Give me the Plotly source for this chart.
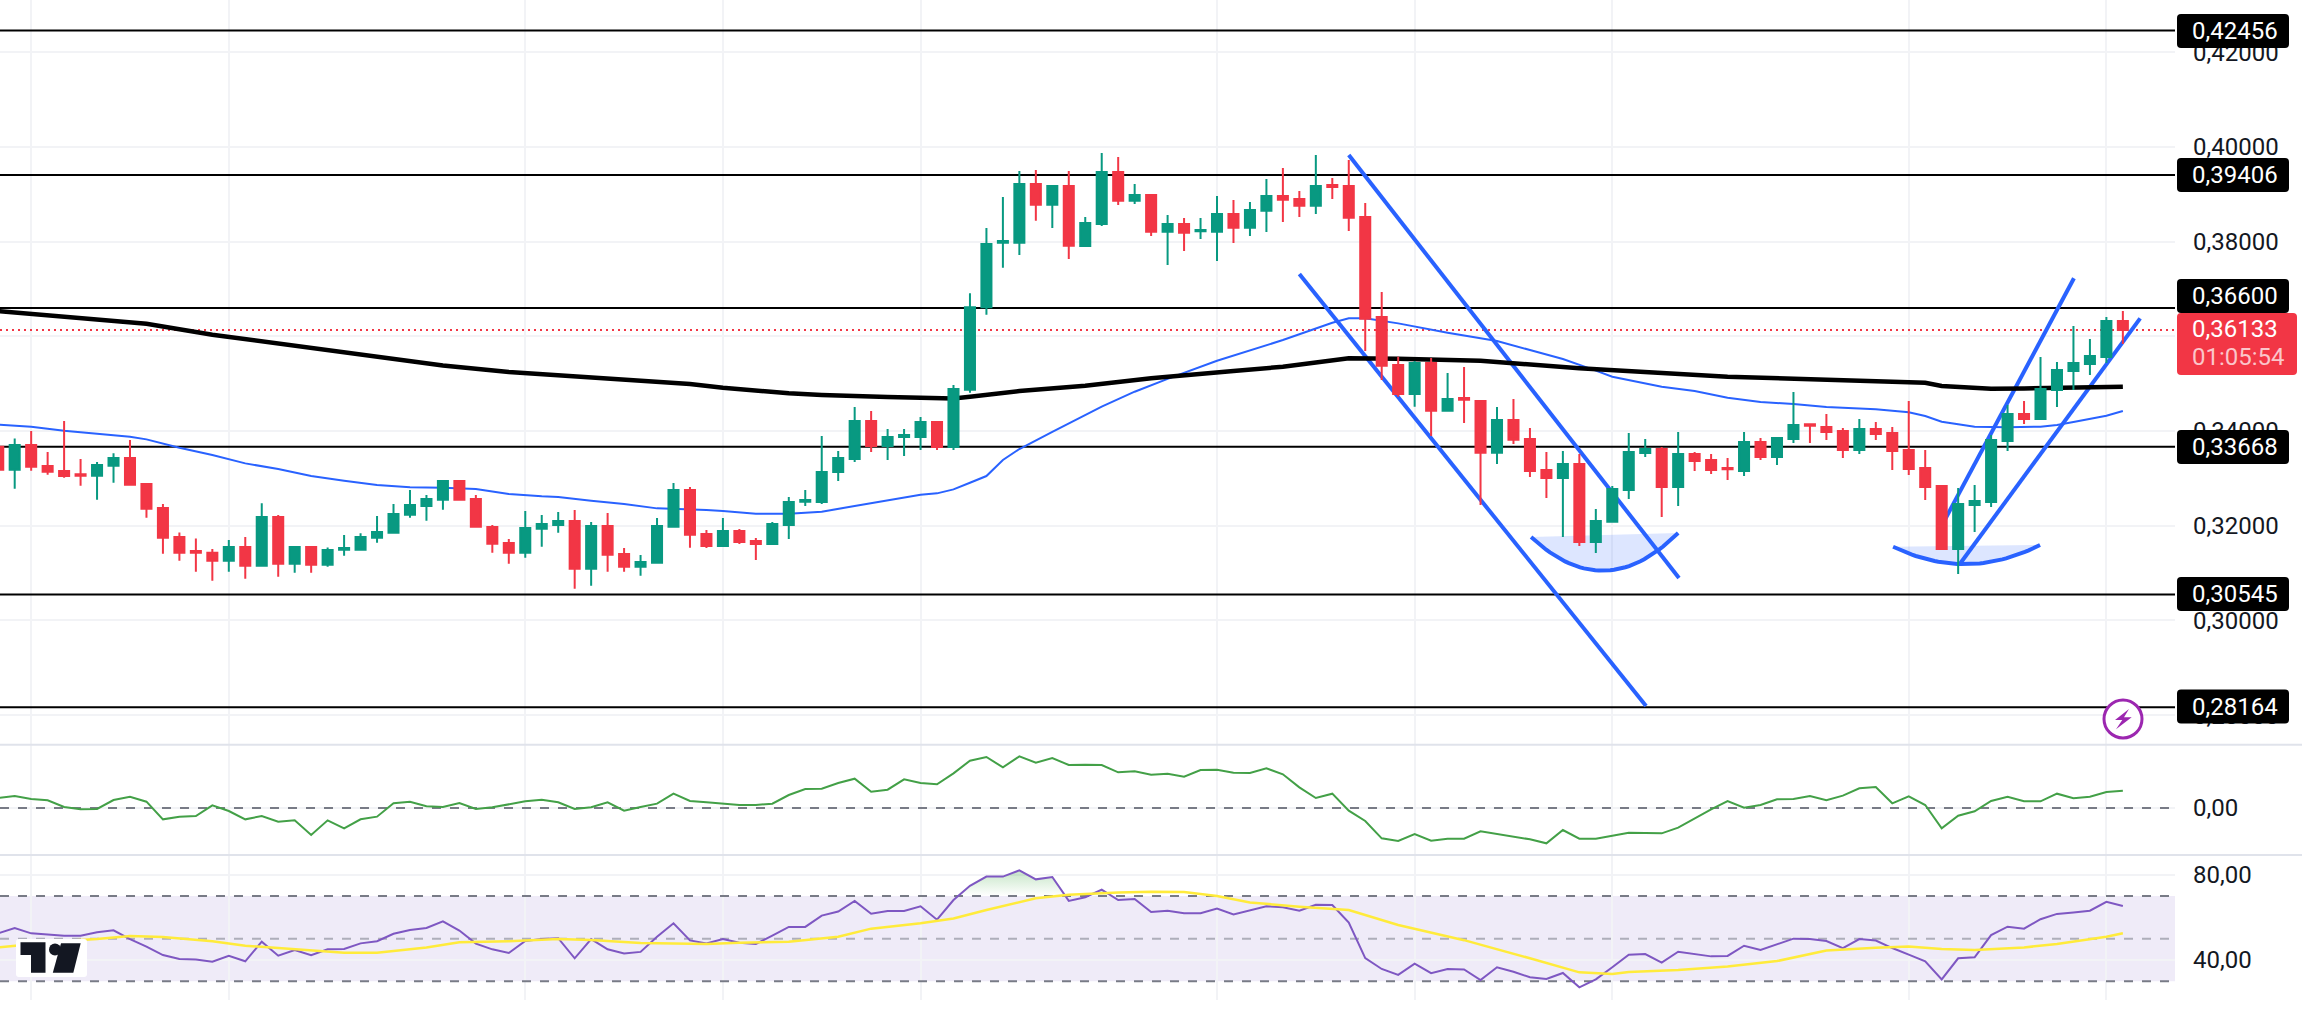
import numpy as np
import plotly.graph_objects as go

W, H = 2302, 1017
FONT = "Roboto"
RED, GREEN = "#F23645", "#089981"
BLUE = "#2962FF"
GRID = "#F2F3F6"

# Candle index -1 is the partly visible first bar. Prices are in 1e-5 units.
CANDLE_IDX = list(range(-1, 129))
OPEN_E5 = [33668,33183,33704,33260,33155,33084,33056,33267,33429,32880,32373,31761,31465,31430,31261,31549,31155,32183,31197,31549,31176,31493,31493,31747,31852,32232,32415,32549,32943,32563,31972,31634,31430,31937,32014,32099,31092,31993,31402,31134,31219,31979,32753,31824,31571,31887,31676,31613,32014,32507,32500,33133,33408,34211,33683,33873,33873,34189,33661,34872,36611,37977,37977,39216,38780,39174,37907,38371,39469,38864,38984,38209,38371,38216,38209,38582,38294,38653,38963,38899,38758,39195,39174,38519,36407,35393,34781,35436,34429,34696,34633,33542,34232,33830,33176,33007,33302,31655,32084,32753,33535,33619,32817,33514,33387,33218,33155,33767,33450,33830,34140,34084,33999,33598,34042,33957,33598,33218,32838,31507,32436,32500,33788,34358,34253,34865,35267,35414,35562,36323]
HIGH_E5 = [33704,33844,33999,33556,34211,33408,33345,33528,33809,32880,32458,31859,31732,31507,31697,31761,32472,32225,31571,31571,31542,31803,31838,32204,32458,32753,32648,32964,32964,32648,32014,31718,32310,32225,32289,32331,32077,32268,31528,31380,32162,32901,32817,31908,32162,31930,31740,32077,32605,32753,33894,33577,34506,34422,34042,34042,34295,34211,34971,36907,38287,38941,39491,39512,39174,39491,38519,39871,39786,39216,38984,38561,38498,38498,38963,38878,38836,39322,39554,39068,39828,39343,39723,38815,36935,35569,35478,35541,35224,35351,34654,34506,34675,34063,33556,33577,33514,32352,32838,33957,33830,33661,33978,33556,33514,33429,33978,33852,33873,34823,34140,34358,34063,34253,34189,34084,34633,33598,32859,32796,32859,33915,34548,34633,35562,35457,36217,35942,36407,36534]
LOW_E5 = [33162,32781,33162,33077,33014,32845,32549,32908,32845,32169,31409,31261,31028,30838,31028,30881,31155,30923,31007,31007,31134,31366,31493,31641,31852,32169,32106,32338,32549,31958,31430,31197,31324,31556,31852,30669,30733,31028,31028,30944,31219,31958,31535,31528,31571,31613,31275,31592,31718,32415,32458,32943,33345,33556,33387,33471,33598,33598,33598,34809,36456,37449,37716,38442,38287,37632,37885,38329,38772,38794,38118,37505,37801,38054,37590,37970,38118,38202,38413,38519,38582,38899,38223,35689,35076,34724,34513,33894,34429,34168,32436,33302,33725,33028,32584,31761,31571,31423,32084,32563,33450,32183,32415,33155,33091,32964,33049,33387,33281,33746,33746,33809,33429,33514,33809,33176,33070,32542,31507,30979,31866,32394,33577,34147,34253,34506,34865,35182,35436,35837]
CLOSE_E5 = [33183,33704,33246,33140,33049,33056,33281,33429,32866,32359,31747,31430,31430,31261,31549,31155,32183,31197,31549,31176,31486,31528,31761,31866,32246,32436,32563,32943,32549,31979,31620,31430,31951,32035,32099,31092,31993,31388,31134,31233,31993,32753,31810,31571,31887,31655,31613,32035,32500,32542,33133,33429,34211,33683,33873,33915,34189,33661,34886,36611,37949,38012,39216,38780,39174,37914,38392,39469,38864,38984,38209,38371,38188,38244,38582,38294,38667,38963,38885,38758,39174,39153,38505,36372,35379,34781,35436,34429,34675,34661,33542,34232,33816,33155,33007,33302,31655,32099,32774,33556,33619,32817,33514,33366,33176,33190,33767,33450,33852,34126,34112,33978,33598,34042,33936,33577,33197,32817,31507,32458,32521,33809,34358,34253,34886,35288,35436,35583,36323,36133]

BLUE_MA_IDX = [-1,1,3,5,7,8,10,12,14,16,18,20,22,24,26,28,30,32,33,35,37,39,41,42,43,45,47,49,51,53,55,56,57,58,59,60,61,63,66,68,70,73,77,80,81,82,84,87,90,92,94,96,97,100,102,104,106,108,110,113,115,116,117,119,120,121,123,124,125,126,127,128]
BLUE_MA_E5 = [34133,34091,34006,33950,33880,33823,33647,33492,33316,33197,33049,32950,32859,32810,32803,32774,32669,32620,32605,32528,32458,32366,32352,32331,32310,32253,32253,32296,32415,32528,32655,32683,32767,32908,33049,33388,33620,33980,34513,34830,35100,35485,35921,36287,36379,36379,36273,36076,35900,35710,35520,35274,35147,34936,34844,34703,34612,34570,34506,34457,34394,34316,34196,34091,34077,34077,34091,34126,34189,34253,34323,34422]
BLACK_MA_IDX = [-1,8,12,17,26,30,37,41,43,45,47,49,51,53,55,57,58,61,65,69,74,77,81,84,89,95,104,111,116,117,120,122,126,128]
BLACK_MA_E5 = [36534,36266,36034,35795,35383,35246,35077,34992,34915,34844,34795,34760,34732,34717,34703,34689,34724,34844,34957,35112,35267,35358,35534,35527,35485,35323,35147,35076,35020,34950,34893,34900,34915,34936]

LEVELS_E5 = [42456, 39406, 36600, 33668, 30545, 28164]
LEVEL_LABELS = ["0,42456", "0,39406", "0,36600", "0,33668", "0,30545", "0,28164"]
LEVEL_LABEL_CENTER_PX = [31, 175, 296, 447, 594, 706.5]
LAST_PRICE_E5 = 36133
COUNTDOWN = "01:05:54"

# Hand-drawn channels and arcs: (candle index, price e5) end points.
CHANNELS = [
    ([81.0, 101.05], [39829, 30895]),
    ([78.0, 99.05], [37316, 28192]),
    ([117.0, 125.03], [32000, 37225]),
    ([118.1, 129.05], [31190, 36379]),
]
ARCS = [
    ([92.07, 96.47, 101.0], [31761, 31050, 31846]),
    ([114.05, 118.1, 122.97], [31556, 31190, 31592]),
]

GRID_X = [1, 13, 31, 43, 55, 73, 85, 97, 115, 127]

# Chaikin-style oscillator, in thousandths
CMF_E3 = [60,72,54,46,6,-8,-6,48,68,38,-68,-52,-48,16,-18,-68,-48,-82,-74,-162,-74,-122,-68,-52,28,38,10,6,30,-6,4,20,40,50,34,-6,4,34,-16,6,26,86,42,34,28,18,18,26,78,114,116,150,176,98,110,172,150,142,208,284,306,244,310,272,300,258,260,258,214,220,200,206,188,228,230,212,210,238,202,124,60,86,-16,-78,-182,-198,-156,-196,-184,-184,-140,-156,-176,-188,-212,-132,-184,-184,-166,-148,-150,-152,-118,-62,-8,42,2,18,52,54,72,46,74,118,126,28,70,18,-122,-46,-20,42,68,40,40,86,58,68,96,104]
RSI = [52.5,55.0,52.5,51.9,51.4,51.4,53.0,53.9,49.8,46.3,42.3,40.5,40.2,39.2,42.0,39.4,48.6,42.0,44.7,42.3,45.0,45.2,47.8,48.8,52.3,54.1,55.0,58.1,53.8,47.7,45.0,43.3,48.9,49.8,50.2,40.8,49.8,45.0,43.1,43.8,50.9,57.2,49.2,47.8,49.8,48.1,47.5,51.4,55.5,55.5,60.8,62.7,67.7,61.7,63.0,63.0,65.2,58.9,68.1,74.8,79.1,79.1,82.0,77.8,78.9,67.7,69.4,73.0,68.1,68.6,62.5,63.1,61.9,61.9,64.1,61.4,63.3,65.2,64.7,63.1,65.9,65.8,57.5,40.9,35.8,33.0,38.3,33.8,35.8,35.6,30.6,36.6,34.5,31.9,31.1,33.9,27.2,30.9,36.6,42.5,42.8,38.8,43.9,42.8,41.7,41.9,46.7,44.7,47.5,50.0,49.8,48.9,45.6,49.8,49.1,45.6,42.5,39.4,30.9,40.8,41.3,51.7,55.6,54.7,59.1,61.6,62.3,63.1,67.3,65.3]
RSI_MA_IDX = [-1,3,5,7,9,12,14,17,20,22,25,27,30,33,35,38,42,44,47,50,52,55,57,59,62,64,67,69,71,73,75,78,81,84,88,92,95,97,98,101,104,107,110,113,115,117,119,122,124,127,128]
RSI_MA = [45.9,48.9,49.8,51.3,50.8,48.8,46.7,45.2,43.4,43.4,45.9,48.3,48.8,49.8,49.4,48.0,47.5,48.1,48.6,50.9,54.7,57.2,59.5,63.4,68.9,70.6,71.7,72.0,71.9,70.0,67.0,65.0,63.4,56.4,49.3,40.8,34.2,33.4,34.4,35.3,36.9,39.5,44.4,45.8,46.3,45.2,44.7,45.9,47.5,50.9,52.5]

def prices(vals):
    return [v / 1e5 for v in vals]

def X(px):
    return px / W

def Y(py):
    return 1 - py / H

def idx_at(px):
    return (px - 14.7) / 16.47

def rrect(x0, y0, x1, y1, r, color):
    p = (f"M{X(x0+r)},{Y(y0)} L{X(x1-r)},{Y(y0)} Q{X(x1)},{Y(y0)} {X(x1)},{Y(y0+r)} "
         f"L{X(x1)},{Y(y1-r)} Q{X(x1)},{Y(y1)} {X(x1-r)},{Y(y1)} "
         f"L{X(x0+r)},{Y(y1)} Q{X(x0)},{Y(y1)} {X(x0)},{Y(y1-r)} "
         f"L{X(x0)},{Y(y0+r)} Q{X(x0)},{Y(y0)} {X(x0+r)},{Y(y0)} Z")
    return dict(type="path", xref="paper", yref="paper", path=p, fillcolor=color,
                line=dict(width=0), layer="above")

def poly(points, color):
    p = "M" + " L".join(f"{X(a)},{Y(b)}" for a, b in points) + " Z"
    return dict(type="path", xref="paper", yref="paper", path=p, fillcolor=color,
                line=dict(width=0), layer="above")

fig = go.Figure()
XL, XR = idx_at(0), idx_at(2175)

def line_trace(x, y, yaxis="y", **line):
    return go.Scatter(x=x, y=y, mode="lines", line=line, yaxis=yaxis, xaxis="x",
                      hoverinfo="skip", showlegend=False)

# Horizontal levels and last-price line sit on the base price axis, under the candles
for lv in LEVELS_E5:
    fig.add_trace(line_trace([XL, XR], [lv / 1e5] * 2, color="#000000", width=2))
fig.add_trace(line_trace([XL, XR], [LAST_PRICE_E5 / 1e5] * 2, color=RED, width=2, dash="2px,4px"))

# Arcs with fill, channels
for ax, ay in ARCS:
    c = np.polyfit(ax, ay, 2)
    xs = np.linspace(ax[0], ax[2], 40)
    ys = np.polyval(c, xs) / 1e5
    fig.add_trace(go.Scatter(x=xs, y=ys, mode="lines", fill="toself", fillcolor="rgba(41,98,255,0.16)",
                             line=dict(color="rgba(0,0,0,0)", width=0), hoverinfo="skip",
                             showlegend=False, xaxis="x", yaxis="y"))
    fig.add_trace(line_trace(xs, ys, color=BLUE, width=4))
for cx, cy in CHANNELS:
    fig.add_trace(line_trace(cx, prices(cy), color=BLUE, width=4))

fig.add_trace(line_trace(BLUE_MA_IDX, prices(BLUE_MA_E5), color=BLUE, width=2))
fig.add_trace(line_trace(BLACK_MA_IDX, prices(BLACK_MA_E5), color="#000000", width=4.5))

# Candles on an overlay axis so they are painted above the lines
fig.add_trace(go.Candlestick(
    x=CANDLE_IDX, open=prices(OPEN_E5), high=prices(HIGH_E5), low=prices(LOW_E5), close=prices(CLOSE_E5),
    xaxis="x", yaxis="y2", showlegend=False, hoverinfo="skip", whiskerwidth=0,
    increasing=dict(line=dict(color=GREEN, width=2), fillcolor=GREEN),
    decreasing=dict(line=dict(color=RED, width=2), fillcolor=RED)))

# Oscillator panel
fig.add_trace(line_trace([XL, XR], [0, 0], yaxis="y3", color="#787B86", width=2, dash="9px,9px"))
fig.add_trace(line_trace(CANDLE_IDX, [v / 1000 for v in CMF_E3], yaxis="y3", color="#43A047", width=2))

# RSI panel
for lv, col in [(70, "#787B86"), (30, "#787B86"), (50, "rgba(120,123,134,0.55)")]:
    fig.add_trace(line_trace([XL, XR], [lv, lv], yaxis="y4", color=col, width=2, dash="9px,9px"))

run = []
runs = []
for k in range(len(RSI)):
    if RSI[k] > 70:
        if not run and k > 0:
            t = (70 - RSI[k-1]) / (RSI[k] - RSI[k-1])
            run.append((CANDLE_IDX[k-1] + t, 70))
        run.append((CANDLE_IDX[k], RSI[k]))
    elif run:
        t = (70 - RSI[k-1]) / (RSI[k] - RSI[k-1])
        run.append((CANDLE_IDX[k-1] + t, 70))
        runs.append(run)
        run = []
for r in runs:
    fig.add_trace(go.Scatter(x=[a for a, _ in r], y=[b for _, b in r], mode="lines", fill="toself",
                             line=dict(width=0, color="rgba(0,0,0,0)"), hoverinfo="skip", showlegend=False,
                             xaxis="x", yaxis="y4",
                             fillgradient=dict(type="vertical", colorscale=[[0, "rgba(76,175,80,0.0)"], [1, "rgba(76,175,80,0.32)"]])))
fig.add_trace(line_trace(CANDLE_IDX, RSI, yaxis="y4", color="#7E57C2", width=2))
fig.add_trace(line_trace(RSI_MA_IDX, RSI_MA, yaxis="y4", color="#FFEB3B", width=2.5))

shapes = [
    dict(type="rect", xref="paper", yref="y4", x0=0, x1=X(2175), y0=30, y1=70,
         fillcolor="rgba(126,87,194,0.12)", line=dict(width=0), layer="below"),
    dict(type="line", xref="paper", yref="paper", x0=0, x1=1, y0=Y(744.7), y1=Y(744.7),
         line=dict(color="#E0E3EB", width=2), layer="above"),
    dict(type="line", xref="paper", yref="paper", x0=0, x1=1, y0=Y(855), y1=Y(855),
         line=dict(color="#E0E3EB", width=2), layer="above"),
]

anns = []
def label(text, cy, color="#FFFFFF", size=24):
    anns.append(dict(xref="paper", yref="paper", x=X(2192), y=Y(cy), text=text, showarrow=False,
                     xanchor="left", yanchor="middle", font=dict(family=FONT, size=size, color=color),
                     borderpad=0, borderwidth=0))

# Last-price tag first, then the level tags on top
shapes.append(rrect(2177, 313, 2297, 375, 4, RED))
label(f"0,{LAST_PRICE_E5}", 329.5)
label(COUNTDOWN, 357, color="rgba(255,255,255,0.72)")
for txt, cy in zip(LEVEL_LABELS, LEVEL_LABEL_CENTER_PX):
    shapes.append(rrect(2177, cy - 17, 2289, cy + 17, 4, "#000000"))
    label(txt, cy)

# Lightning badge
shapes.append(dict(type="circle", xref="paper", yref="paper", x0=X(2104), x1=X(2142), y0=Y(700), y1=Y(738),
                   fillcolor="#FFFFFF", line=dict(color="#9C27B0", width=3), layer="above"))
shapes.append(poly([(2129, 709), (2115, 720), (2122.3, 720), (2116, 729.3), (2131.7, 717.3), (2124, 717.3)], "#9C27B0"))

# Logo
shapes.append(rrect(16, 939, 87, 977, 3, "#FFFFFF"))
shapes.append(poly([(20.5, 942.3), (45.5, 942.3), (45.5, 972.7), (31, 972.7), (31, 955), (20.5, 955)], "#131722"))
shapes.append(dict(type="circle", xref="paper", yref="paper", x0=X(49), x1=X(61), y0=Y(943.5), y1=Y(955.5),
                   fillcolor="#131722", line=dict(width=0), layer="above"))
shapes.append(poly([(61, 943.3), (80.7, 943.3), (73.3, 972.7), (52.8, 972.7)], "#131722"))

PRICE_RANGE = [0.32 - 219.3 / 4735, 0.32 + 525.7 / 4735]
tick_font = dict(family=FONT, size=24, color="#131722")
yaxis_common = dict(side="right", showline=False, zeroline=False, ticks="", fixedrange=True,
                    gridcolor=GRID, gridwidth=2, tickfont=tick_font, ticklabelstandoff=17)

fig.update_layout(
    width=W, height=H, autosize=False,
    margin=dict(l=0, r=0, t=0, b=0, pad=0),
    paper_bgcolor="#FFFFFF", plot_bgcolor="#FFFFFF",
    separators=",.", showlegend=False, boxgap=0.39, boxgroupgap=0, hovermode=False,
    xaxis=dict(domain=[0, 2175 / W], range=[XL, XR], anchor="y4", showticklabels=False,
               tickmode="array", tickvals=GRID_X, showgrid=True, gridcolor=GRID, gridwidth=2,
               zeroline=False, showline=False, ticks="", fixedrange=True,
               rangeslider=dict(visible=False)),
    yaxis=dict(domain=[Y(745), 1], range=PRICE_RANGE, tickmode="array",
               tickvals=[0.28, 0.30, 0.32, 0.34, 0.36, 0.38, 0.40, 0.42], tickformat=".5f", **yaxis_common),
    yaxis2=dict(overlaying="y", range=PRICE_RANGE, side="right", visible=False, fixedrange=True),
    yaxis3=dict(domain=[Y(855), Y(745)], range=[-0.282, 0.378], tickmode="array", tickvals=[0],
                tickformat=".2f", anchor="x", **yaxis_common),
    yaxis4=dict(domain=[Y(1000), Y(855)], range=[21.25, 89.22], tickmode="array", tickvals=[40, 80],
                tickformat=".2f", anchor="x", **yaxis_common),
    shapes=shapes, annotations=anns,
)

fig.write_html("out.html", config={"displayModeBar": False},
               post_script="document.body.style.margin='0';document.body.style.overflow='hidden';")
